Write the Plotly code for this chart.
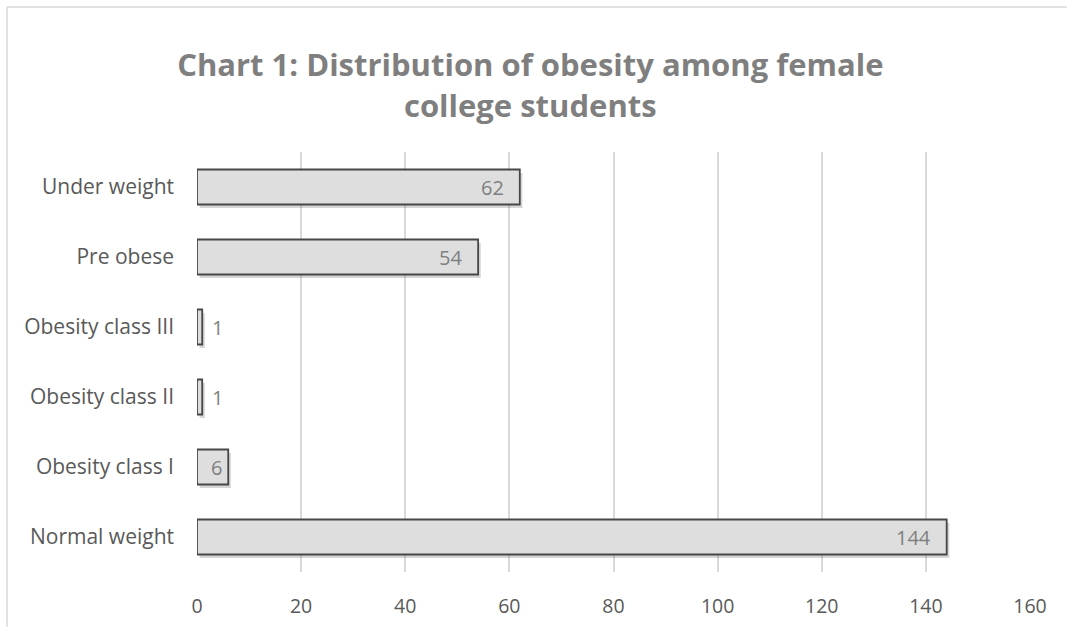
import plotly.graph_objects as go

categories = ["Normal weight", "Obesity class I", "Obesity class II",
              "Obesity class III", "Pre obese", "Under weight"]
values = [144, 6, 1, 1, 54, 62]
x_ticks = [0, 20, 40, 60, 80, 100, 120, 140, 160]
title_text = "Chart 1: Distribution of obesity among female<br>college students"

W, H = 1067, 627
ML, MR, MT, MB = 197, 37, 152, 55
pw, ph = W - ML - MR, H - MT - MB
FONT = "Open Sans"
BAR_W = 0.5
px_per_unit = pw / 160.0

fig = go.Figure()
# soft drop shadow under each bar
fig.add_trace(go.Bar(
    y=categories, x=values, orientation="h", base=0.5,
    width=BAR_W, offset=-BAR_W / 2 - 0.05,
    marker=dict(color="rgba(0,0,0,0.16)", line=dict(width=0)),
    hoverinfo="skip",
))
fig.add_trace(go.Bar(
    y=categories, x=values, orientation="h",
    width=BAR_W, offset=-BAR_W / 2,
    marker=dict(color="#dedede", line=dict(color="#474747", width=1.8)),
    hoverinfo="x+y",
))

for c, v in zip(categories, values):
    bar_px = v * px_per_unit
    inside = bar_px > 20
    if inside:
        shift = -14 if bar_px > 60 else -4
    else:
        shift = 8
    fig.add_annotation(
        x=v, y=c, xref="x", yref="y", text=str(v), showarrow=False,
        xanchor="right" if inside else "left",
        xshift=shift,
        font=dict(family=FONT, size=20, color="#7f7f7f"),
    )

def px2x(p):
    return (p - ML) / pw

def px2y(p):
    return (H - MB - p) / ph

fig.add_shape(type="line", xref="paper", yref="paper",
              x0=px2x(7), x1=px2x(W + 5), y0=px2y(7), y1=px2y(7),
              line=dict(color="#d9d9d9", width=1.5))
fig.add_shape(type="line", xref="paper", yref="paper",
              x0=px2x(7), x1=px2x(7), y0=px2y(7), y1=px2y(H + 5),
              line=dict(color="#d9d9d9", width=1.5))

fig.update_layout(
    width=W, height=H,
    margin=dict(l=ML, r=MR, t=MT, b=MB),
    paper_bgcolor="white", plot_bgcolor="white",
    barmode="overlay",
    showlegend=False,
    title=dict(text=title_text, x=0.497, xanchor="center", y=0.878, yanchor="top",
               font=dict(family=FONT, size=31, color="#7f7f7f", weight="bold")),
    font=dict(family=FONT, color="#595959"),
    xaxis=dict(range=[0, 160], tickvals=x_ticks, showgrid=True, gridcolor="#d9d9d9",
               gridwidth=1.5, zeroline=False, showline=False, automargin=False,
               tickfont=dict(size=19.5, color="#595959"), ticks="", ticklabelstandoff=20),
    yaxis=dict(categoryorder="array", categoryarray=categories, showgrid=False,
               range=[-0.5, len(categories) - 0.5], automargin=False,
               zeroline=False, showline=False, ticks="",
               tickfont=dict(size=21, color="#595959"), ticklabelstandoff=22),
)

fig.write_html("out.html")
